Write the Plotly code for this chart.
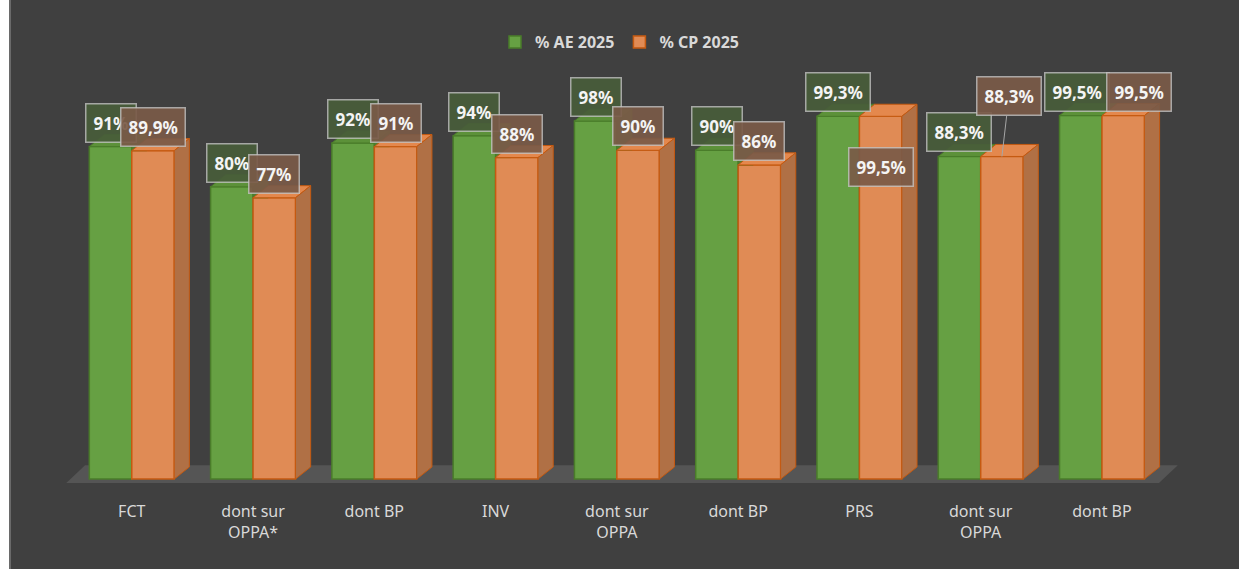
import plotly.graph_objects as go

# ---- data ----
categories = ["FCT", "dont sur<br>OPPA*", "dont BP", "INV", "dont sur<br>OPPA",
              "dont BP", "PRS", "dont sur<br>OPPA", "dont BP"]
ae_2025 = [91, 80, 92, 94, 98, 90, 99.3, 88.3, 99.5]
cp_2025 = [89.9, 77, 91, 88, 90, 86, 99.3, 88.3, 99.5]
ae_labels = ["91%", "80%", "92%", "94%", "98%", "90%", "99,3%", "88,3%", "99,5%"]
cp_labels = ["89,9%", "77%", "91%", "88%", "90%", "86%", "99,5%", "88,3%", "99,5%"]

# ---- style ----
BG = "#404040"
TXT = "#d9d9d9"
G_FRONT, G_LINE, G_TOP, G_SIDE = "#66a043", "#4a7c2a", "#5c9139", "#4f7d31"
O_FRONT, O_LINE, O_TOP, O_SIDE = "#e08b55", "#c55a11", "#e4884d", "#b07045"
BW = 0.35          # bar width (category units)
DX, DY = 0.125, 3.3  # 3D depth offsets
FONT = "Noto Sans"

# label offsets (px); None -> label with leader line
ae_xshift = [0, 0, 0, 0, 0, 0, 0, 0, -4]
cp_xshift = [0, 0, 0, 0, 0, 0, 0, 0, 16]
cp_shift = [24, 24, 24, 24, 24, 24, -51, None, 24]

idx = list(range(len(categories)))

fig = go.Figure()
fig.add_trace(go.Bar(x=idx, y=ae_2025, width=BW, offset=-BW, name="<b>% AE 2025</b>",
                     marker=dict(color=G_FRONT, line=dict(color=G_LINE, width=1.5)),
                     hovertemplate="%{y}<extra>% AE 2025</extra>"))
fig.add_trace(go.Bar(x=idx, y=cp_2025, width=BW, offset=0, name="<b>% CP 2025</b>",
                     marker=dict(color=O_FRONT, line=dict(color=O_LINE, width=1.5)),
                     hovertemplate="%{y}<extra>% CP 2025</extra>"))

def poly_trace(xs, ys, fill, line):
    return go.Scatter(x=xs, y=ys, mode="lines", fill="toself", fillcolor=fill,
                      line=dict(color=line, width=1), hoverinfo="skip",
                      showlegend=False)

# green visible side (above orange) and top
gsx, gsy, gtx, gty = [], [], [], []
for i, (vg, vo) in enumerate(zip(ae_2025, cp_2025)):
    gl, gr = i - BW, i
    if vg > vo:
        gsx += [gr, gr, gr + DX, gr + DX, gr, None]
        gsy += [vo, vg, vg + DY, vo, vo, None]
    gtx += [gl, gr, gr + DX, gl + DX, gl, None]
    gty += [vg, vg, vg + DY, vg + DY, vg, None]
fig.add_trace(poly_trace(gsx, gsy, G_SIDE, G_LINE))
fig.add_trace(poly_trace(gtx, gty, G_TOP, G_LINE))

# orange top and side
otx, oty, osx, osy = [], [], [], []
for i, vo in enumerate(cp_2025):
    ol, orr = i, i + BW
    otx += [ol, orr, orr + DX, ol + DX, ol, None]
    oty += [vo, vo, vo + DY, vo + DY, vo, None]
    osx += [orr, orr, orr + DX, orr + DX, orr, None]
    osy += [0, vo, vo + DY, DY, 0, None]
fig.add_trace(poly_trace(otx, oty, O_TOP, O_LINE))
fig.add_trace(poly_trace(osx, osy, O_SIDE, O_LINE))

# floor
n = len(categories)
fx0, fx1 = -0.54, n - 1 + 0.47
fig.add_shape(type="path", layer="below", xref="x", yref="y",
              path=f"M {fx0},-1.1 L {fx1},-1.1 L {fx1 + 0.155},3.8 L {fx0 + 0.155},3.8 Z",
              fillcolor="#555555", line=dict(width=0))

# data labels
LBL_FONT = dict(color="#f4f4f4", size=17, family=FONT)
ann = []
for i, (v, t) in enumerate(zip(ae_2025, ae_labels)):
    ann.append(dict(x=i - BW / 2, y=v, text=f"<b>{t}</b>", showarrow=False,
                    yshift=24, xshift=ae_xshift[i], font=LBL_FONT,
                    bgcolor="rgba(72,92,58,0.92)", bordercolor="rgba(200,200,200,0.75)",
                    borderwidth=1.5, borderpad=7))
for i, (v, t) in enumerate(zip(cp_2025, cp_labels)):
    base = dict(x=i + BW / 2, y=v, text=f"<b>{t}</b>", font=LBL_FONT,
                bgcolor="rgba(122,90,72,0.92)", bordercolor="rgba(200,200,200,0.75)",
                borderwidth=1.5, borderpad=7)
    if cp_shift[i] is None:
        base.update(showarrow=True, arrowhead=0, arrowwidth=1, arrowcolor="#a6a6a6",
                    ax=7, ay=-60, standoff=0)
    else:
        base.update(showarrow=False, yshift=cp_shift[i], xshift=cp_xshift[i])
    ann.append(base)

# outer decorations (white strip + border at left)
W = 1239
L, R = 59, 40
pw = W - L - R
fig.add_shape(type="rect", xref="paper", yref="paper", x0=(0 - L) / pw, x1=(9 - L) / pw,
              y0=-1, y1=2, fillcolor="white", line=dict(width=0), layer="above")
fig.add_shape(type="rect", xref="paper", yref="paper", x0=(9 - L) / pw, x1=(11 - L) / pw,
              y0=-1, y1=2, fillcolor="#6a6a6a", line=dict(width=0), layer="above")

fig.update_layout(
    width=W, height=569,
    margin=dict(l=L, r=R, t=70, b=79),
    paper_bgcolor=BG, plot_bgcolor=BG,
    barmode="overlay",
    font=dict(family=FONT, color=TXT, size=16),
    xaxis=dict(range=[-0.6, 8.8], tickvals=idx, ticktext=categories,
               showgrid=False, zeroline=False, showline=False, ticks="",
               ticklabelstandoff=10,
               tickfont=dict(color=TXT, size=16, family=FONT), fixedrange=True),
    yaxis=dict(range=[-3.0, 111.7], visible=False, showgrid=False, zeroline=False,
               fixedrange=True),
    legend=dict(orientation="h", x=0.5, xanchor="center", xref="container",
                y=1 - 42 / 569, yanchor="middle", yref="container",
                font=dict(color=TXT, size=16, family=FONT), bgcolor="rgba(0,0,0,0)",
                itemwidth=30),
    annotations=ann,
    showlegend=True,
)

fig.write_html("out.html", config={"displayModeBar": False},
               post_script="document.body.style.margin='0';")
